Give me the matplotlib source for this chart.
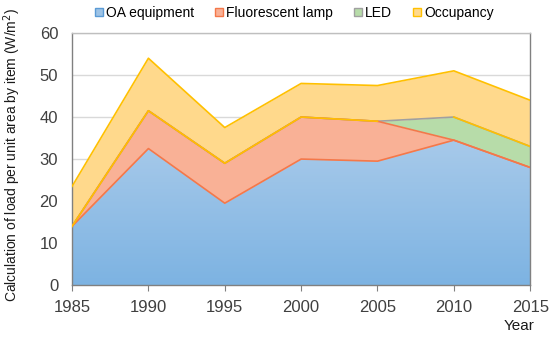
import numpy as np
import matplotlib.pyplot as plt
from matplotlib.patches import Patch
from matplotlib.colors import LinearSegmentedColormap

plt.rcParams["font.family"] = ["Liberation Sans", "DejaVu Sans"]

# data (W/m2, stacked)
years = [1985, 1990, 1995, 2000, 2005, 2010, 2015]
oa_equipment = [14, 32.5, 19.5, 30, 29.5, 34.5, 28]
fluorescent = [0, 9, 9.5, 10, 9.5, 0, 0]
led = [0, 0, 0, 0, 0, 5.5, 5]
occupancy = [9.5, 12.5, 8.5, 8, 8.5, 11, 11]
labels = ["OA equipment", "Fluorescent lamp", "LED", "Occupancy"]

fills = ["#9DC3E6", "#F9B196", "#B7DCA9", "#FFD98C"]
edges = ["#5B9BD5", "#F4784A", "#A0A0A0", "#FFC000"]

fig = plt.figure(figsize=(5.5, 3.37), dpi=100)
ax = fig.add_axes([0.131, 0.154, 0.833, 0.748])

x = np.array(years)
b0 = np.zeros(len(x))
b1 = b0 + np.array(oa_equipment)
b2 = b1 + np.array(fluorescent)
b3 = b2 + np.array(led)
b4 = b3 + np.array(occupancy)

ax.grid(axis="y", color="#D9D9D9", lw=1, zorder=0)
ax.set_axisbelow(True)

# OA equipment with vertical gradient
poly = ax.fill_between(x, b0, b1, color="none", lw=0, zorder=1)
grad = np.linspace(0, 1, 256).reshape(-1, 1)
cm = LinearSegmentedColormap.from_list("g", ["#7DB3E2", "#A8CAEA"])
im = ax.imshow(grad, cmap=cm, origin="lower", aspect="auto",
               extent=[1985, 2015, 0, 35], zorder=1)
im.set_clip_path(poly.get_paths()[0], transform=ax.transData)

ax.fill_between(x, b1, b2, color=fills[1], lw=0, zorder=2)
ax.fill_between(x, b2, b3, color=fills[2], lw=0, zorder=2)
ax.fill_between(x, b3, b4, color=fills[3], lw=0, zorder=2)

ax.plot(x, b3, color="#A0A0A0", lw=1.2, zorder=3)
ax.plot(x, b1, color="#F4784A", lw=1.2, zorder=3)
ax.plot(x, b2, color="#F4784A", lw=1.2, zorder=3)
ax.plot(x[5:], b3[5:], color="#FFC000", lw=1.2, zorder=4)
ax.plot(x[:5], b2[:5], color="#FFC000", lw=1.2, zorder=4)
ax.plot(x, b4, color="#FFC000", lw=1.2, zorder=4)

ax.set_xlim(1985, 2015)
ax.set_ylim(0, 60)
ax.set_xticks(years)
ax.set_yticks(range(0, 61, 10))
ax.tick_params(axis="y", length=0, labelsize=12, colors="#404040", pad=10)
ax.tick_params(axis="x", length=4, color="#808080", labelsize=12, colors="#404040", pad=7)
for s in ax.spines.values():
    s.set_color("#808080")
    s.set_linewidth(1)
ax.spines["top"].set_color("#BFBFBF")

fig.text(0.022, 0.54, "Calculation of load per unit area by item (W/m$^2$)",
         rotation=90, ha="center", va="center", fontsize=10, color="#1a1a1a")
fig.text(0.972, 0.033, "Year", ha="right", va="center", fontsize=11, color="#1a1a1a")

handles = [Patch(facecolor=f, edgecolor=e, lw=1) for f, e in zip(fills, edges)]
fig.legend(handles, labels, loc="center", bbox_to_anchor=(0.535, 0.962), ncol=4,
           frameon=False, fontsize=10, handlelength=0.6, handleheight=0.6,
           handletextpad=0.2, columnspacing=1.5, borderpad=0)

fig.savefig("out.png", dpi=100)
